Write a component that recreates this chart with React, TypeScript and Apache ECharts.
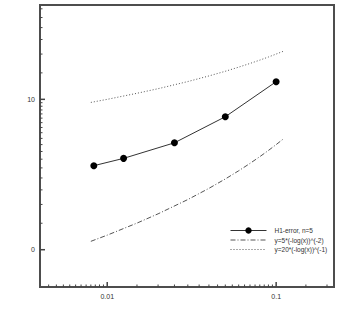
import React, { useEffect, useRef } from "react";
import * as echarts from "echarts";

// H1-error, n=5
const hValues = [0.00833, 0.0125, 0.025, 0.05, 0.1];
const h1Error = [3.62, 4.05, 5.14, 7.66, 13.1];

// reference curves
const refX = [0.008, 0.01, 0.015, 0.02, 0.03, 0.04, 0.05, 0.06, 0.07, 0.08, 0.09, 0.1, 0.11];
const refDashDot = [1.137, 1.25, 1.503, 1.732, 2.156, 2.559, 2.954, 3.349, 3.749, 4.156, 4.572, 5.0, 5.441];
const refDotted = [9.54, 10.0, 10.97, 11.77, 13.13, 14.31, 15.37, 16.37, 17.32, 18.23, 19.12, 20.0, 20.86];

// ticks
const xMajor = [0.01, 0.1];
const xMajorLabels = ["0.01", "0.1"];
const xMinor = [
  0.0045, 0.005, 0.0055, 0.006, 0.0065, 0.007, 0.0075, 0.008, 0.0085, 0.009, 0.0095,
  0.015, 0.02, 0.025, 0.03, 0.035, 0.04, 0.045, 0.05, 0.055, 0.06, 0.065, 0.07, 0.075,
  0.08, 0.085, 0.09, 0.095, 0.15, 0.2,
];
const yMajor = [1, 10];
const yMajorLabels = ["0", "10"];
const yMinor = [
  1.5, 2, 2.5, 3, 3.5, 4, 4.5, 5, 5.5, 6, 6.5, 7, 7.5, 8, 8.5, 9, 9.5, 15, 20, 25, 30, 35, 40,
];

const seriesNames = ["H1-error, n=5", "y=5*(-log(x))^(-2)", "y=20*(-log(x))^(-1)"];

const X_MIN = 0.004;
const X_MAX = 0.22;
const Y_MIN = 0.565;
const Y_MAX = 42.4;

const FONT = "Liberation Sans, Arial, sans-serif";
const LEGEND_TEXT = { fontSize: 6.5, color: "#333", fontFamily: FONT, padding: [0, 0, 0, 3] };

function labelFor(v: number, majors: number[], labels: string[]) {
  for (let i = 0; i < majors.length; i++) {
    if (Math.abs(Math.log10(v) - Math.log10(majors[i])) < 1e-6) return labels[i];
  }
  return "";
}

function xTickSeries(values: number[], len: number, width: number) {
  return {
    type: "custom",
    silent: true,
    z: 5,
    data: values.map((v) => [v, Y_MIN * 1.5]),
    renderItem: (params: any, api: any) => {
      const cs = params.coordSys;
      const p = api.coord([api.value(0), api.value(1)]);
      const bottom = cs.y + cs.height;
      return {
        type: "line",
        shape: { x1: p[0], y1: bottom, x2: p[0], y2: bottom - len },
        style: { stroke: "#444", lineWidth: width },
      };
    },
  };
}

function yTickSeries(values: number[], len: number, width: number) {
  return {
    type: "custom",
    silent: true,
    z: 5,
    data: values.map((v) => [X_MIN * 1.5, v]),
    renderItem: (params: any, api: any) => {
      const cs = params.coordSys;
      const p = api.coord([api.value(0), api.value(1)]);
      const left = cs.x;
      return {
        type: "line",
        shape: { x1: left, y1: p[1], x2: left + len, y2: p[1] },
        style: { stroke: "#444", lineWidth: width },
      };
    },
  };
}

export default function App() {
  const ref = useRef<HTMLDivElement>(null);
  useEffect(() => {
    if (!ref.current) return;
    const chart = echarts.init(ref.current, null, { renderer: "svg" });
    chart.setOption({
      animation: false,
      backgroundColor: "#fff",
      grid: {
        show: true,
        left: 40,
        right: 5,
        top: 5,
        bottom: 40,
        borderColor: "#4d4d4d",
        borderWidth: 2,
        backgroundColor: "transparent",
      },
      legend: {
        data: [
          { name: seriesNames[0], textStyle: LEGEND_TEXT },
          { name: seriesNames[1], itemStyle: { opacity: 0 }, textStyle: LEGEND_TEXT },
          { name: seriesNames[2], itemStyle: { opacity: 0 }, textStyle: LEGEND_TEXT },
        ],
        orient: "vertical",
        left: 225,
        top: 222,
        itemWidth: 36,
        itemHeight: 8,
        itemGap: 2.5,
        lineStyle: { width: 1 },
        textStyle: LEGEND_TEXT,
      },
      xAxis: {
        type: "log",
        logBase: 10,
        min: X_MIN,
        max: X_MAX,
        axisLine: { show: false },
        axisTick: { show: false },
        splitLine: { show: false },
        minorTick: { show: false },
        axisLabel: {
          fontSize: 7,
          color: "#333",
          fontFamily: FONT,
          margin: 6,
          showMinLabel: false,
          showMaxLabel: false,
          formatter: (v: number) => labelFor(v, xMajor, xMajorLabels),
        },
      },
      yAxis: {
        type: "log",
        logBase: 10,
        min: Y_MIN,
        max: Y_MAX,
        axisLine: { show: false },
        axisTick: { show: false },
        splitLine: { show: false },
        minorTick: { show: false },
        axisLabel: {
          fontSize: 7,
          color: "#333",
          fontFamily: FONT,
          margin: 5,
          showMinLabel: false,
          showMaxLabel: false,
          formatter: (v: number) => labelFor(v, yMajor, yMajorLabels),
        },
      },
      series: [
        {
          name: seriesNames[0],
          type: "line",
          data: hValues.map((x, i) => [x, h1Error[i]]),
          symbol: "circle",
          symbolSize: 7,
          showSymbol: true,
          lineStyle: { color: "#333", width: 1 },
          itemStyle: { color: "#000" },
          z: 4,
        },
        {
          name: seriesNames[1],
          type: "line",
          data: refX.map((x, i) => [x, refDashDot[i]]),
          showSymbol: false,
          symbol: "none",
          lineStyle: { color: "#555", width: 1, type: [5, 2, 1, 2] },
          itemStyle: { color: "#555" },
        },
        {
          name: seriesNames[2],
          type: "line",
          data: refX.map((x, i) => [x, refDotted[i]]),
          showSymbol: false,
          symbol: "none",
          lineStyle: { color: "#555", width: 1, type: [1, 2] },
          itemStyle: { color: "#555" },
        },
        xTickSeries(xMajor, 5, 1.5),
        xTickSeries(xMinor, 2.5, 1),
        yTickSeries(yMajor, 5, 1.5),
        yTickSeries(yMinor, 2.5, 1),
      ],
    });
    return () => chart.dispose();
  }, []);
  return (
    <div
      ref={ref}
      style={{ position: "fixed", left: 0, top: 0, width: 339, height: 327 }}
    />
  );
}
